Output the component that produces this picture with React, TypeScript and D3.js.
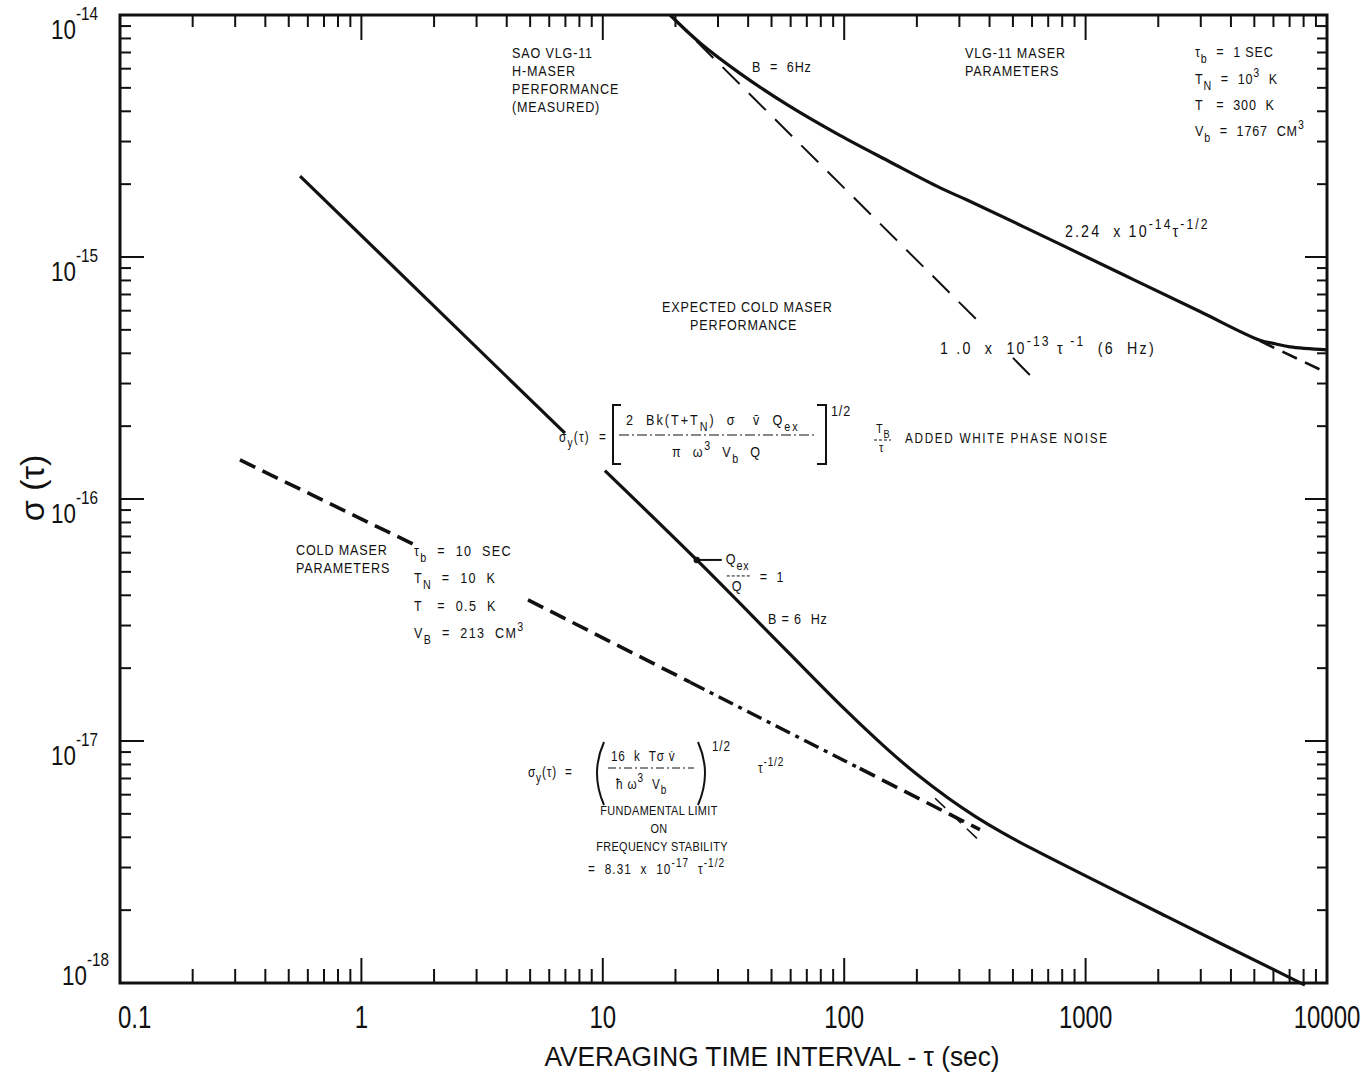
import React, { useEffect, useRef } from 'react';
import * as d3 from 'd3';

// axis ranges and tick labels
const xDomain: [number, number] = [0.1, 10000];
const yDomain: [number, number] = [1e-18, 1e-14];
const xTickLabels = ['0.1', '1', '10', '100', '1000', '10000'];
const yExponents = [-14, -15, -16, -17, -18];

// SAO VLG-11 H-maser, measured (solid)
const vlgMeasured: [number, number][] = [
  [19, 1.0e-14], [25.3, 7.66e-15], [37, 5.74e-15], [59.6, 4.19e-15], [96, 3.18e-15],
  [155, 2.47e-15], [250, 1.93e-15], [323, 1.72e-15], [783, 1.13e-15], [1571, 8.08e-16],
  [2977, 5.95e-16], [5270, 4.53e-16], [6100, 4.38e-16], [7030, 4.25e-16], [10000, 4.13e-16],
];
// 1.0e-13 tau^-1 (6 Hz), dashed, broken at its label
const sixHzA: [number, number][] = [[19, 1.0e-14], [372, 5.24e-16]];
const sixHzB: [number, number][] = [[500, 3.83e-16], [605, 3.16e-16]];
// 2.24e-14 tau^-1/2 asymptote, dashed
const vlgWhite: [number, number][] = [[5270, 4.5e-16], [10000, 3.32e-16]];

// expected cold maser performance (solid)
const coldUpper: [number, number][] = [[0.557, 2.16e-15], [6.97, 1.87e-16]];
const coldLower: [number, number][] = [
  [10.2, 1.31e-16], [24.5, 5.6e-17], [55.7, 2.45e-17], [100, 1.36e-17], [150, 9.3e-18],
  [200, 7.28e-18], [272, 5.77e-18], [350, 4.87e-18], [450, 4.19e-18], [600, 3.59e-18],
  [2173, 1.88e-18], [8100, 0.98e-18],
];
const coldTail: [number, number][] = [[238, 5.8e-18], [365, 3.85e-18]];

// fundamental limit 8.31e-17 tau^-1/2 (heavy dashed)
const limitA: [number, number][] = [[0.314, 1.45e-16], [1.67, 6.45e-17]];
const limitB: [number, number][] = [[4.9, 3.83e-17], [23, 1.75e-17]];
const limitC: [number, number][] = [[23, 1.75e-17], [116, 7.7e-18]];
const limitD: [number, number][] = [[116, 7.7e-18], [365, 4.3e-18]];

const qexMarker: [number, number] = [24.5, 5.6e-17];

const FONT = "'Liberation Sans', Arial, sans-serif";
const SX = 0.84; // condensed look of the typed lettering

const App = () => {
  const svgRef = useRef<SVGSVGElement>(null);

  useEffect(() => {
    const width = 1361;
    const height = 1075;
    const left = 120, right = 1327, top = 15, bottom = 983;

    const svg = d3.select(svgRef.current);
    svg.selectAll('*').remove();
    svg.attr('width', width).attr('height', height);
    svg.append('rect').attr('width', width).attr('height', height).attr('fill', '#fff');

    const x = d3.scaleLog().domain(xDomain).range([left, right]);
    const y = d3.scaleLog().domain(yDomain).range([bottom, top]);

    // rich text: _{sub} and ^{sup}, squeezed horizontally
    const rich = (g, px, py, markup, size = 15, anchor = 'start', spacing = 1, sx = SX) => {
      const t = g.append('text')
        .attr('transform', `translate(${px},${py}) scale(${sx},1)`)
        .attr('font-size', size)
        .attr('text-anchor', anchor)
        .attr('letter-spacing', spacing)
        .style('white-space', 'pre');
      const parts = markup.split(/(_\{[^}]*\}|\^\{[^}]*\})/).filter(p => p !== '');
      let shift = 0;
      parts.forEach(p => {
        let target = 0, txt = p, fs = size;
        if (p.startsWith('_{')) { target = size * 0.38; txt = p.slice(2, -1); fs = size * 0.85; }
        else if (p.startsWith('^{')) { target = -size * 0.5; txt = p.slice(2, -1); fs = size * 0.85; }
        t.append('tspan').attr('dy', target - shift).attr('font-size', fs).text(txt);
        shift = target;
      });
      return t;
    };

    const root = svg.append('g').attr('font-family', FONT).attr('fill', '#111');

    // ticks
    const tickG = root.append('g').attr('stroke', '#111').attr('stroke-width', 2);
    const isMajor = v => Math.abs(Math.log10(v) - Math.round(Math.log10(v))) < 1e-6;
    const xTicks = x.ticks();
    const yTicks = y.ticks();

    tickG.selectAll('.xb').data(xTicks).join('line')
      .attr('x1', d => x(d)).attr('x2', d => x(d))
      .attr('y1', bottom).attr('y2', d => bottom - (isMajor(d) ? 25 : 14));
    tickG.selectAll('.xt').data(xTicks).join('line')
      .attr('x1', d => x(d)).attr('x2', d => x(d))
      .attr('y1', top).attr('y2', d => top + (isMajor(d) ? 25 : 12));
    tickG.selectAll('.yl').data(yTicks).join('line')
      .attr('y1', d => y(d)).attr('y2', d => y(d))
      .attr('x1', left).attr('x2', d => left + (isMajor(d) ? 24 : 11));
    tickG.selectAll('.yr').data(yTicks).join('line')
      .attr('y1', d => y(d)).attr('y2', d => y(d))
      .attr('x1', right).attr('x2', d => right - (isMajor(d) ? 22 : 10));

    // frame
    root.append('rect')
      .attr('x', left).attr('y', top)
      .attr('width', right - left).attr('height', bottom - top)
      .attr('fill', 'none').attr('stroke', '#111').attr('stroke-width', 3);

    // x tick labels
    xTickLabels.forEach((lab, i) => {
      const v = +lab;
      rich(root, i === 0 ? x(v) - 2 : x(v), 1028, lab, 32, i === 0 ? 'start' : 'middle', 0, 0.75);
    });

    // y tick labels
    yExponents.forEach((e, i) => {
      const py = y(Math.pow(10, e));
      const last = i === yExponents.length - 1;
      const base = last ? py + 2 : py + 24;
      const lx = last ? 62 : 51;
      rich(root, lx, base, '10', 28, 'start', 0, 0.8);
      rich(root, lx + 25, base - 19, `${e}`, 18, 'start', 0, 0.85);
    });

    // axis titles
    root.append('text')
      .attr('x', 772).attr('y', 1066)
      .attr('font-size', 27)
      .attr('text-anchor', 'middle')
      .attr('textLength', 455)
      .attr('lengthAdjust', 'spacingAndGlyphs')
      .style('white-space', 'pre')
      .text('AVERAGING TIME INTERVAL - \u03C4 (sec)');
    root.append('text')
      .attr('transform', 'translate(44,488) rotate(-90)')
      .attr('font-size', 34)
      .attr('text-anchor', 'middle')
      .text('\u03C3 (\u03C4)');

    // curves
    const line = d3.line<[number, number]>().x(d => x(d[0])).y(d => y(d[1]));
    const smooth = d3.line<[number, number]>().x(d => x(d[0])).y(d => y(d[1])).curve(d3.curveCatmullRom.alpha(0.5));
    const plotG = root.append('g').attr('fill', 'none').attr('stroke', '#111').attr('stroke-linecap', 'butt');

    plotG.append('path').attr('d', smooth(vlgMeasured)).attr('stroke-width', 3.2);
    [sixHzA, sixHzB].forEach(s => plotG.append('path').attr('d', line(s))
      .attr('stroke-width', 2).attr('stroke-dasharray', '24,13'));
    plotG.append('path').attr('d', line(vlgWhite)).attr('stroke-width', 2.6).attr('stroke-dasharray', '16,9');

    plotG.append('path').attr('d', line(coldUpper)).attr('stroke-width', 3.2);
    plotG.append('path').attr('d', smooth(coldLower)).attr('stroke-width', 3.2);
    plotG.append('path').attr('d', line(coldTail)).attr('stroke-width', 1.6).attr('stroke-dasharray', '14,8');

    [limitA, limitB, limitD].forEach(s => plotG.append('path').attr('d', line(s))
      .attr('stroke-width', 3.6).attr('stroke-dasharray', '17,8'));
    plotG.append('path').attr('d', line(limitC)).attr('stroke-width', 3.4).attr('stroke-dasharray', '16,6,4,6');

    // Qex/Q = 1 marker
    const mx = x(qexMarker[0]), my = y(qexMarker[1]);
    root.append('circle').attr('cx', mx).attr('cy', my).attr('r', 3.2);
    root.append('line').attr('x1', mx).attr('y1', my).attr('x2', mx + 25).attr('y2', my)
      .attr('stroke', '#111').attr('stroke-width', 2);
    rich(root, mx + 29, my + 4, 'Q_{ex}', 15);
    root.append('line').attr('x1', mx + 30).attr('x2', mx + 55).attr('y1', my + 16).attr('y2', my + 16)
      .attr('stroke', '#111').attr('stroke-width', 1).attr('stroke-dasharray', '3,2');
    rich(root, mx + 35, my + 31, 'Q', 15);
    rich(root, mx + 63, my + 22, '=  1', 15);

    // annotations
    const ann = root.append('g');
    const lines = (px, py, rows, size = 15, anchor = 'start', step = 18, spacing = 1) =>
      rows.forEach((r, i) => rich(ann, px, py + i * step, r, size, anchor, spacing));

    lines(512, 58, ['SAO VLG-11', 'H-MASER', 'PERFORMANCE', '(MEASURED)']);
    rich(ann, 752, 72, 'B  =  6Hz');
    lines(965, 58, ['VLG-11 MASER', 'PARAMETERS']);
    rich(ann, 1195, 57, '\u03C4_{b}  =  1 SEC');
    rich(ann, 1195, 84, 'T_{N}  =  10^{3}  K');
    rich(ann, 1195, 110, 'T   =  300  K');
    rich(ann, 1195, 136, 'V_{b}  =  1767  CM^{3}');
    rich(ann, 1065, 237, '2.24  x 10^{-14}\u03C4^{-1/2}', 17, 'start', 2.5);
    lines(662, 312, ['EXPECTED COLD MASER']);
    lines(690, 330, ['PERFORMANCE']);
    rich(ann, 940, 354, '1 .0  x  10^{-13} \u03C4^{ -1}  (6  Hz)', 17, 'start', 2.6);

    // white phase noise formula
    rich(ann, 559, 442, '\u03C3_{y}(\u03C4)  =', 14, 'start', 1.5);
    ann.append('path').attr('d', 'M621,405 H613 V464 H621')
      .attr('fill', 'none').attr('stroke', '#111').attr('stroke-width', 2);
    ann.append('path').attr('d', 'M817,405 H826 V464 H817')
      .attr('fill', 'none').attr('stroke', '#111').attr('stroke-width', 2);
    rich(ann, 626, 425, '2  Bk(T+T_{N})  \u03C3   v\u0304  Q_{ex}', 15, 'start', 2.4);
    ann.append('line').attr('x1', 619).attr('x2', 816).attr('y1', 435).attr('y2', 435)
      .attr('stroke', '#111').attr('stroke-width', 1).attr('stroke-dasharray', '10,3,2,3');
    rich(ann, 672, 457, '\u03C0  \u03C9^{3}  V_{b}  Q', 15, 'start', 2);
    rich(ann, 831, 416, '1/2', 15);
    rich(ann, 876, 433, 'T_{B}', 13);
    ann.append('line').attr('x1', 874).attr('x2', 891).attr('y1', 440).attr('y2', 440)
      .attr('stroke', '#111').attr('stroke-width', 1).attr('stroke-dasharray', '3,2');
    rich(ann, 879, 452, '\u03C4', 13);
    rich(ann, 905, 443, 'ADDED WHITE PHASE NOISE', 14, 'start', 2);

    // cold maser parameters
    lines(296, 555, ['COLD MASER', 'PARAMETERS']);
    rich(ann, 414, 556, '\u03C4_{b}  =  10  SEC', 15, 'start', 1.6);
    rich(ann, 414, 583, 'T_{N}  =  10  K', 15, 'start', 1.6);
    rich(ann, 414, 611, 'T   =  0.5  K', 15, 'start', 1.6);
    rich(ann, 414, 638, 'V_{B}  =  213  CM^{3}', 15, 'start', 1.6);
    rich(ann, 768, 624, 'B = 6  Hz');

    // fundamental limit formula
    rich(ann, 528, 777, '\u03C3_{y}(\u03C4)  =', 14);
    ann.append('path').attr('d', 'M604,742 Q590,773 604,805')
      .attr('fill', 'none').attr('stroke', '#111').attr('stroke-width', 2);
    ann.append('path').attr('d', 'M698,742 Q712,773 698,805')
      .attr('fill', 'none').attr('stroke', '#111').attr('stroke-width', 2);
    rich(ann, 611, 761, '16  k  T\u03C3 v\u0307', 14);
    ann.append('line').attr('x1', 608).attr('x2', 694).attr('y1', 768).attr('y2', 768)
      .attr('stroke', '#111').attr('stroke-width', 1).attr('stroke-dasharray', '8,3,2,3');
    rich(ann, 616, 789, '\u0127 \u03C9^{3}  V_{b}', 14);
    rich(ann, 712, 751, '1/2', 14);
    rich(ann, 758, 773, '\u03C4^{-1/2}', 14);
    rich(ann, 659, 815, 'FUNDAMENTAL LIMIT', 13, 'middle', 0.4);
    rich(ann, 659, 833, 'ON', 13, 'middle', 0.4);
    rich(ann, 662, 851, 'FREQUENCY STABILITY', 13, 'middle', 0.4);
    rich(ann, 588, 874, '=  8.31  x  10^{-17}  \u03C4^{-1/2}', 14, 'start', 1.3);
  }, []);

  return (
    <svg ref={svgRef} style={{ position: 'absolute', left: 0, top: 0, display: 'block' }} />
  );
};

export default App;
